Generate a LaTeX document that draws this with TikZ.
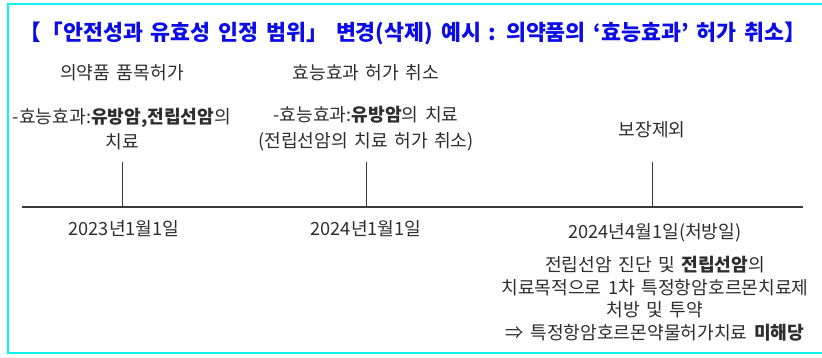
\documentclass[tikz,border=0pt]{standalone}
\usepackage{fontspec}
\setmainfont{Noto Sans CJK KR}[WordSpace=1.6]
\usetikzlibrary{positioning}
\definecolor{frame}{HTML}{12F0F0}
\definecolor{ttlblue}{HTML}{0C0CE6}
\definecolor{ink}{HTML}{2E2E2E}
\definecolor{axis}{HTML}{3A3A3A}

\begin{document}
\begin{tikzpicture}[x=0.03cm, y=-0.03cm,
  lbl/.style={text=ink, font=\fontsize{15.5}{22}\selectfont, inner sep=0pt, align=center},
  datelbl/.style={text=ink, font=\fontsize{15.5}{18}\selectfont, inner sep=0pt},
  tickline/.style={axis, line width=0.7pt}]

% Canvas
\useasboundingbox (0,0) rectangle (822,357);
\fill[white] (0,0) rectangle (822,357);

% Frame (open on the right)
\draw[frame, line width=2.2pt] (822,4) -- (8,4) -- (8,353) -- (822,353);

% Title
\node[text=ttlblue, font=\fontsize{18.5}{22}\selectfont\bfseries, inner sep=0pt] (title) at (413,33)
  {【「안전성과 유효성 인정 범위」 변경(삭제) 예시 : 의약품의 ‘효능효과’ 허가 취소】};

% Headings above the timeline
\node[lbl] (head1) at (122,73) {의약품 품목허가};
\node[lbl] (head2) at (366,73) {효능효과 허가 취소};

% Descriptions
\node[lbl] (desc1) at (122,129) {-효능효과:\textbf{유방암,전립선암}의\\치료};
\node[lbl] (desc2) at (366,129) {-효능효과:\textbf{유방암}의 치료\\(전립선암의 치료 허가 취소)};
\node[lbl] (desc3) at (652,130) {보장제외};

% Timeline
\coordinate (lstart) at (22,207);
\coordinate (lend) at (803,207);
\draw[axis, line width=1pt] (lstart) -- (lend);

% Ticks
\coordinate (top1) at (122,162);
\coordinate (top2) at (366,162);
\coordinate (top3) at (652,162);
\coordinate (d1) at (122,207);
\coordinate (d2) at (366,207);
\coordinate (d3) at (652,207);
\draw[tickline] (top1) -- (d1);
\draw[tickline] (top2) -- (d2);
\draw[tickline] (top3) -- (d3);

% Dates
\node[datelbl] (date1) at (124,229) {2023년1월1일};
\node[datelbl] (date2) at (366,229) {2024년1월1일};
\node[datelbl] (date3) at (655,233) {2024년4월1일(처방일)};

% Note below the last date
\node[lbl, font=\fontsize{15.5}{19.2}\selectfont] (note) at (655,298.5)
  {전립선암 진단 및 \textbf{전립선암}의\\
   치료목적으로 1차 특정항암호르몬치료제\\
   처방 및 투약\\
   ⇒ 특정항암호르몬약물허가치료 \textbf{미해당}};

\end{tikzpicture}
\end{document}
